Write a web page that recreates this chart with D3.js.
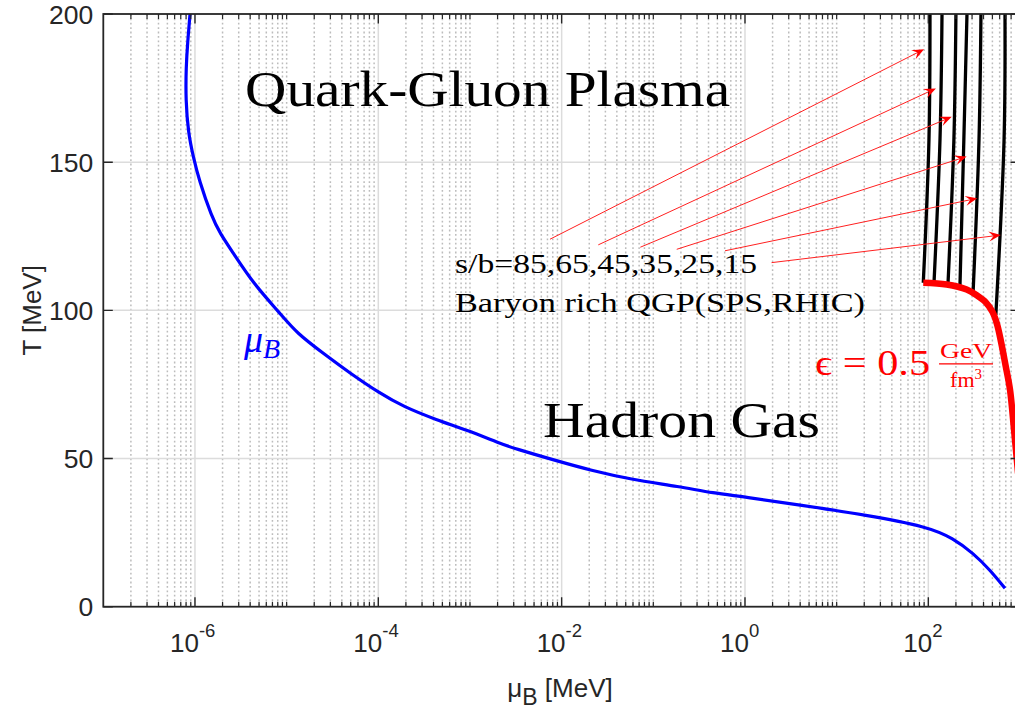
<!DOCTYPE html>
<html><head><meta charset="utf-8">
<script src="https://cdn.jsdelivr.net/npm/d3@7"></script>
<style>body{margin:0;background:#fff;} svg{display:block;}</style>
</head><body>
<svg id="c" width="1015" height="709"></svg>
<script>
// ---------- data ----------
const xDomain = [1e-7, 1e3];
const yDomain = [0, 200];
const xMajorTicks = [1e-6, 1e-4, 1e-2, 1, 1e2];
const xTickExponents = ["-6", "-4", "-2", "0", "2"];
const yTicks = [0, 50, 100, 150, 200];
const yTickLabels = ["0", "50", "100", "150", "200"];

// blue mu_B curve
const blueMu = [8.83e-7, 8.3e-7, 8.0e-7, 7.92e-7, 8.46e-7, 9.59e-7, 1.107e-6, 1.522e-6, 1.875e-6, 2.62e-6, 4.32e-6,
  8.47e-6, 1.29e-5, 2.51e-5, 4.91e-5, 1.04e-4, 1.875e-4, 4.34e-4, 9.2e-4, 2.13e-3, 2.97e-3,
  9.6e-3, 0.0204, 0.0557, 0.195, 0.451, 0.984, 3.98, 21.3, 98.4, 187, 310, 471, 686];
const blueT = [200, 190, 182.2, 171.0, 159.7, 151.8, 144.0, 131.6, 126.0, 119.3, 109.1,
  99.0, 92.3, 85.5, 78.8, 72.0, 67.5, 63.0, 59.6, 55.1, 53.5,
  48.9, 46.1, 43.0, 40.5, 38.3, 37.1, 34.3, 30.9, 27.0, 23.1, 18.0, 12.4, 6.2];

// isentropes s/b
const sbValues = [85, 65, 45, 35, 25, 15];
const sbMu = [
  [88.1, 101.6, 104.3],
  [115.3, 134, 141],
  [163.7, 190, 200],
  [221, 244, 264],
  [307, 357, 375],
  [545, 670, 686]
];
const sbT = [
  [109.3, 157.5, 200],
  [109.2, 157.5, 200],
  [108.6, 157.5, 200],
  [107.5, 157.5, 200],
  [105.2, 157.5, 200],
  [98.5, 157.5, 200]
];

// energy density contour eps = 0.5 GeV/fm^3
const redMu = [88.1, 158.5, 262, 340, 420, 500, 560, 620, 700, 778, 861, 953];
const redT = [109.3, 108.7, 107.0, 105.0, 102.8, 99.5, 95.5, 89.5, 81.0, 73.2, 59.7, 45];

// annotation arrows (from text to isentropes)
const arrowFromMu = [7.46e-3, 0.0251, 0.0721, 0.180, 0.605, 1.95];
const arrowFromT = [124.0, 122.1, 121.3, 120.6, 120.1, 116.1];
const arrowToMu = [89.8, 121, 180, 262, 342, 617];
const arrowToT = [188.1, 174.9, 165.3, 151.9, 137.8, 125.4];

// text anchors (data coordinates)
const qgpPos = [3.52e-6, 169.0];
const hadronPos = [6.27e-3, 57.3];
const sbPos = [6.87e-4, 112.6];
const baryonPos = [6.87e-4, 99.5];
const muLabelPos = [3.43e-6, 85.9];
const epsPos = [5.81, 78.2];

// ---------- layout ----------
const L = 103.3, R = 1020, T0 = 14, B0 = 606.7;
const x = d3.scaleLog().domain(xDomain).range([L, R]);
const y = d3.scaleLinear().domain(yDomain).range([B0, T0]);
const svg = d3.select("#c");
const axisColor = "#262626";
const sans = "'Liberation Sans', Arial, Helvetica, sans-serif";
const serif = "'Liberation Serif', 'Times New Roman', serif";

svg.append("defs").append("clipPath").attr("id", "clip")
  .append("rect").attr("x", L).attr("y", T0).attr("width", R - L).attr("height", B0 - T0);

// minor ticks values
const minorTicks = [];
for (let e = -7; e <= 2; e++) {
  for (let k = 1; k <= 9; k++) {
    const v = k * Math.pow(10, e);
    if (v <= xDomain[0] * 1.0001 || v >= xDomain[1] * 0.9999) continue;
    if (xMajorTicks.some(m => Math.abs(m - v) / m < 1e-6)) continue;
    minorTicks.push(v);
  }
}

const grid = svg.append("g");
grid.selectAll(".mg").data(minorTicks).enter().append("line")
  .attr("x1", d => x(d)).attr("x2", d => x(d)).attr("y1", T0).attr("y2", B0)
  .attr("stroke", "#bcbcbc").attr("stroke-width", 1.5).attr("stroke-dasharray", "1.8,2.6");
grid.selectAll(".Mg").data(xMajorTicks).enter().append("line")
  .attr("x1", d => x(d)).attr("x2", d => x(d)).attr("y1", T0).attr("y2", B0)
  .attr("stroke", "#dcdcdc").attr("stroke-width", 1.5);
grid.selectAll(".yg").data(yTicks.slice(1, -1)).enter().append("line")
  .attr("x1", L).attr("x2", R).attr("y1", d => y(d)).attr("y2", d => y(d))
  .attr("stroke", "#dcdcdc").attr("stroke-width", 1.5);

// ---------- curves ----------
const plot = svg.append("g").attr("clip-path", "url(#clip)");
const line = d3.line().x(d => x(d[0])).y(d => y(d[1])).curve(d3.curveCatmullRom.alpha(0.5));
const smooth = d3.line().x(d => x(d[0])).y(d => y(d[1])).curve(d3.curveBasis);

plot.append("path").datum(blueMu.map((m, i) => [m, blueT[i]]))
  .attr("d", smooth).attr("fill", "none").attr("stroke", "#0000ff").attr("stroke-width", 3.2)
  .attr("stroke-linejoin", "round");

sbValues.forEach((s, i) => {
  plot.append("path").datum(sbMu[i].map((m, j) => [m, sbT[i][j]]))
    .attr("d", line).attr("fill", "none").attr("stroke", "#000").attr("stroke-width", 3.3);
});

plot.append("path").datum(redMu.map((m, i) => [m, redT[i]]))
  .attr("d", line).attr("fill", "none").attr("stroke", "#ff0000").attr("stroke-width", 6.5)
  .attr("stroke-linecap", "butt");

// arrows
const ag = svg.append("g");
arrowFromMu.forEach((m, i) => {
  const x1 = x(m), y1 = y(arrowFromT[i]), x2 = x(arrowToMu[i]), y2 = y(arrowToT[i]);
  const dx = x2 - x1, dy = y2 - y1, len = Math.hypot(dx, dy);
  const ux = dx / len, uy = dy / len, px = -uy, py = ux;
  const hl = 12, hw = 5;
  ag.append("line").attr("x1", x1).attr("y1", y1).attr("x2", x2 - ux * 6).attr("y2", y2 - uy * 6)
    .attr("stroke", "#ff2020").attr("stroke-width", 1);
  const pts = [
    [x2, y2],
    [x2 - ux * hl + px * hw, y2 - uy * hl + py * hw],
    [x2 - ux * hl * 0.6, y2 - uy * hl * 0.6],
    [x2 - ux * hl - px * hw, y2 - uy * hl - py * hw]
  ];
  ag.append("polygon").attr("points", pts.map(p => p.join(",")).join(" ")).attr("fill", "#ff0000");
});

// ---------- axes ----------
const ax = svg.append("g").attr("stroke", axisColor);
ax.append("rect").attr("x", L).attr("y", T0).attr("width", R - L).attr("height", B0 - T0)
  .attr("fill", "none").attr("stroke-width", 1.8);
ax.selectAll(".xM").data(xMajorTicks).enter().append("path")
  .attr("d", d => `M${x(d)},${B0}v-9.5M${x(d)},${T0}v9.5`).attr("stroke-width", 1.4);
ax.selectAll(".xm").data(minorTicks).enter().append("path")
  .attr("d", d => `M${x(d)},${B0}v-5M${x(d)},${T0}v5`).attr("stroke-width", 1.2);
ax.selectAll(".yM").data(yTicks).enter().append("path")
  .attr("d", d => `M${L},${y(d)}h9.5M${R},${y(d)}h-9.5`).attr("stroke-width", 1.4);

// tick labels
const yt = svg.append("g").attr("font-family", sans).attr("font-size", 26.5).attr("fill", axisColor);
yTicks.forEach((v, i) => {
  yt.append("text").attr("x", L - 10).attr("y", y(v)).attr("dy", "0.36em")
    .attr("text-anchor", "end").text(yTickLabels[i]);
});
const xt = svg.append("g").attr("font-family", sans).attr("fill", axisColor);
xMajorTicks.forEach((v, i) => {
  const t = xt.append("text").attr("x", x(v) - 25).attr("y", 652).attr("text-anchor", "start");
  t.append("tspan").attr("font-size", 26).text("10");
  t.append("tspan").attr("font-size", 18.5).attr("dy", -15).text(xTickExponents[i]);
});

// axis labels
const xl = svg.append("text").attr("x", 560).attr("y", 697).attr("text-anchor", "middle")
  .attr("font-family", sans).attr("fill", axisColor).attr("font-size", 26);
xl.append("tspan").text("μ");
xl.append("tspan").attr("dy", 8).attr("font-size", 23).text("B");
xl.append("tspan").attr("dy", -8).text(" [MeV]");

svg.append("text").attr("transform", `translate(41,${(T0 + B0) / 2}) rotate(-90)`)
  .attr("text-anchor", "middle").attr("font-family", sans).attr("font-size", 26)
  .attr("fill", axisColor).text("T [MeV]");

// ---------- annotations ----------
const ann = svg.append("g").attr("font-family", serif).attr("fill", "#000");
function label(pos, txt, size, width) {
  ann.append("text").attr("x", x(pos[0])).attr("y", y(pos[1])).attr("font-size", size)
    .attr("textLength", width).attr("lengthAdjust", "spacingAndGlyphs").text(txt);
}
label(qgpPos, "Quark-Gluon Plasma", 50, 485);
label(hadronPos, "Hadron Gas", 50, 277);
label(sbPos, "s/b=85,65,45,35,25,15", 27.5, 302);
label(baryonPos, "Baryon rich QGP(SPS,RHIC)", 27.5, 410);

// mu_B label (blue)
const mb = svg.append("text").attr("x", x(muLabelPos[0])).attr("y", y(muLabelPos[1]))
  .attr("font-family", serif).attr("font-style", "italic").attr("fill", "#0000ff").attr("font-size", 38);
mb.append("tspan").text("μ");
mb.append("tspan").attr("dy", 6).attr("font-size", 28).text("B");

// epsilon label (red)
const ex = x(epsPos[0]), ey = y(epsPos[1]);
svg.append("text").attr("x", ex).attr("y", ey).attr("font-family", serif).attr("font-size", 36)
  .attr("fill", "#ff0000").attr("textLength", 115).attr("lengthAdjust", "spacingAndGlyphs")
  .text("ϵ = 0.5");
svg.append("text").attr("x", ex + 151).attr("y", ey - 17).attr("text-anchor", "middle")
  .attr("font-family", serif).attr("font-size", 22).attr("fill", "#ff0000")
  .attr("textLength", 52).attr("lengthAdjust", "spacingAndGlyphs").text("GeV");
svg.append("line").attr("x1", ex + 124).attr("x2", ex + 178).attr("y1", ey - 11).attr("y2", ey - 11)
  .attr("stroke", "#ff0000").attr("stroke-width", 1.2);
const fm = svg.append("text").attr("x", ex + 151).attr("y", ey + 12).attr("text-anchor", "middle")
  .attr("font-family", serif).attr("font-size", 22).attr("fill", "#ff0000");
fm.append("tspan").text("fm");
fm.append("tspan").attr("font-size", 15).attr("dy", -8).text("3");
</script>
</body></html>
